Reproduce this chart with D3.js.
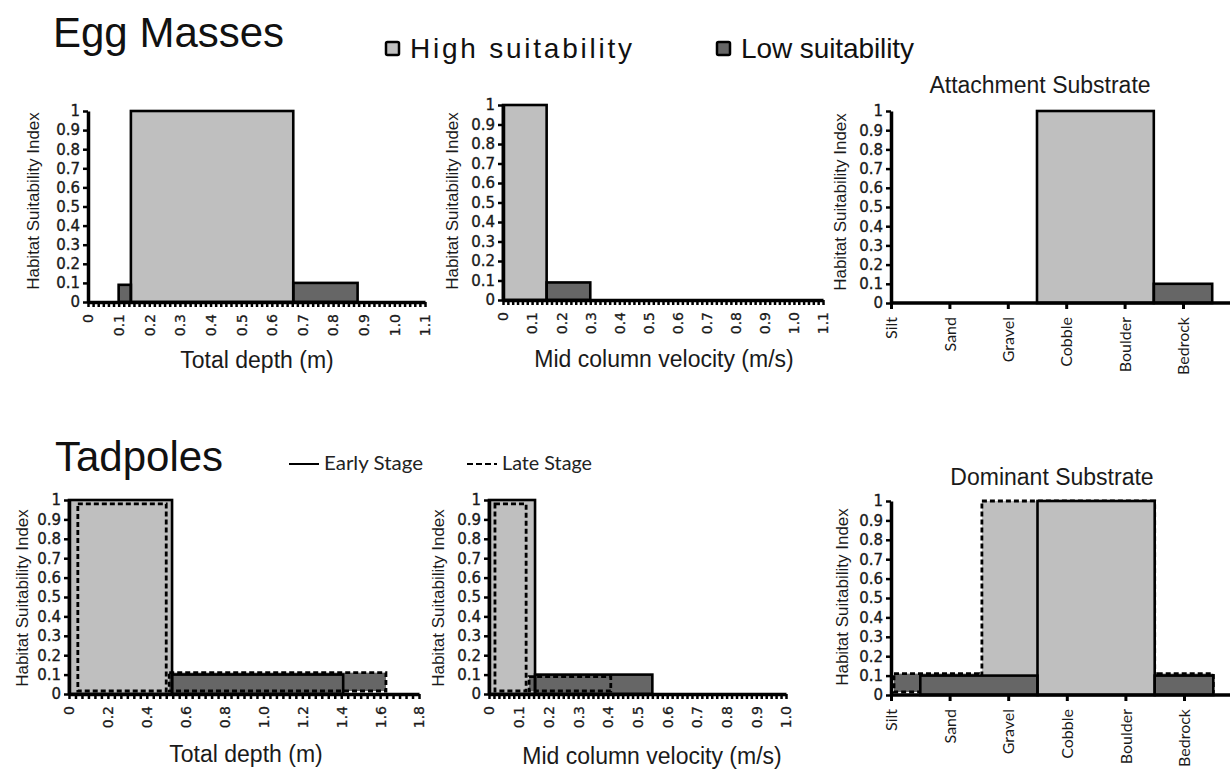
<!DOCTYPE html>
<html>
<head>
<meta charset="utf-8">
<script src="https://cdn.jsdelivr.net/npm/d3@7"></script>
<style>
  body { margin: 0; background: #fff; }
  svg { display: block; }
</style>
</head>
<body>
<div id="chart"></div>
<script>
// ---- data ----
const substrates = ["Silt", "Sand", "Gravel", "Cobble", "Boulder", "Bedrock"];
const hsiTicks = [0, 0.1, 0.2, 0.3, 0.4, 0.5, 0.6, 0.7, 0.8, 0.9, 1];

// egg masses
const eggDepthTicks = [0, 0.1, 0.2, 0.3, 0.4, 0.5, 0.6, 0.7, 0.8, 0.9, 1.0, 1.1];
const eggDepth = [
  { x0: 0.10, x1: 0.14, hsi: 0.09 },
  { x0: 0.14, x1: 0.67, hsi: 1 },
  { x0: 0.67, x1: 0.88, hsi: 0.1 }
];
const eggVelTicks = [0, 0.1, 0.2, 0.3, 0.4, 0.5, 0.6, 0.7, 0.8, 0.9, 1.0, 1.1];
const eggVelocity = [
  { x0: 0, x1: 0.15, hsi: 1 },
  { x0: 0.15, x1: 0.30, hsi: 0.09 }
];
const eggAttachment = [0, 0, 0, 1, 1, 0.1];

// tadpoles
const tadDepthTicks = [0, 0.2, 0.4, 0.6, 0.8, 1.0, 1.2, 1.4, 1.6, 1.8];
const tadDepthEarly = [
  { x0: 0, x1: 0.53, hsi: 1 },
  { x0: 0.53, x1: 1.41, hsi: 0.1 }
];
const tadDepthLate = [
  { x0: 0.03, x1: 0.50, hsi: 0.98 },
  { x0: 0.50, x1: 1.63, hsi: 0.11 }
];
const tadVelTicks = [0, 0.1, 0.2, 0.3, 0.4, 0.5, 0.6, 0.7, 0.8, 0.9, 1.0];
const tadVelEarly = [
  { x0: 0, x1: 0.155, hsi: 1 },
  { x0: 0.155, x1: 0.55, hsi: 0.1 }
];
const tadVelLate = [
  { x0: 0.01, x1: 0.125, hsi: 0.98 },
  { x0: 0.125, x1: 0.41, hsi: 0.09 }
];
const tadSubEarly = [0, 0.1, 0.1, 1, 1, 0.1];
const tadSubLate = [0.11, 0.11, 1, 1, 1, 0.11];

// ---- drawing ----
const WIDTH = 1230, HEIGHT = 772;
const HIGH = "#bfbfbf", LOW = "#666666";
const numFont = "'DejaVu Sans', Verdana, sans-serif";
const arial = "'Liberation Sans', Arial, sans-serif";
const narrow = "'Liberation Sans Narrow', 'Arial Narrow', 'Liberation Sans', sans-serif";
const calibri = "Lato, 'Open Sans', sans-serif";

let svg = d3.select("#chart").append("svg")
  .attr("width", WIDTH)
  .attr("height", HEIGHT);

const fillOf = v => v >= 0.5 ? HIGH : LOW;
const fmtX = d => d === 0 ? "0" : d3.format(".1f")(d);
const fmtY = d => (d === 0 || d === 1) ? String(d) : d3.format(".1f")(d);

// turn per-category values into runs of equal value (index space)
function runs(values) {
  let out = [];
  values.forEach((v, i) => {
    if (v <= 0) return;
    let last = out[out.length - 1];
    if (last && last.hsi === v && last.end === i - 1) last.end = i;
    else out.push({ start: i, end: i, hsi: v });
  });
  return out.map(r => ({ x0: Math.max(0, r.start - 0.5), x1: r.end + 0.5, hsi: r.hsi }));
}

function yAxis(g, y, axisX, tx, ty) {
  g.append("g")
    .attr("transform", `translate(${axisX},0)`)
    .call(d3.axisLeft(y).tickValues(hsiTicks).tickFormat(fmtY).tickSize(5).tickSizeOuter(0).tickPadding(3))
    .call(a => a.select(".domain").attr("stroke-width", 3.5))
    .call(a => a.selectAll(".tick line").attr("stroke-width", 2.5))
    .call(a => a.selectAll("text")
      .attr("font-family", numFont).attr("font-size", 15).attr("fill", "#1a1a1a")
      .attr("stroke", "#1a1a1a").attr("stroke-width", 0.35));
  g.append("text")
    .attr("transform", `translate(${tx},${ty}) rotate(-90)`)
    .attr("text-anchor", "middle")
    .attr("dominant-baseline", "central")
    .attr("font-family", arial)
    .attr("font-size", 17)
    .attr("fill", "#1a1a1a")
    .text("Habitat Suitability Index");
}

function rectAttrs(sel, x, y, dashed) {
  const lift = dashed ? 3 : 0;
  return sel
    .attr("x", d => x(d.x0) + lift)
    .attr("width", d => Math.max(0, x(d.x1) - x(d.x0) - lift))
    .attr("y", d => y(d.hsi))
    .attr("height", d => y(0) - lift - y(d.hsi));
}

function fillBars(g, data, x, y, dashed) {
  rectAttrs(g.append("g").selectAll("rect").data(data).enter().append("rect"), x, y, dashed)
    .attr("fill", d => fillOf(d.hsi));
}

function strokeBars(g, data, x, y, dashed) {
  rectAttrs(g.append("g").selectAll("rect").data(data).enter().append("rect"), x, y, dashed)
    .attr("fill", "none")
    .attr("stroke", "#000")
    .attr("stroke-width", dashed ? 2.8 : 2.6)
    .attr("stroke-dasharray", dashed ? "5,3" : null);
}

function continuousPanel(cfg) {
  let g = svg.append("g");
  let x = d3.scaleLinear().domain([0, cfg.max]).range(cfg.xr);
  let y = d3.scaleLinear().domain([0, 1]).range(cfg.yr);

  fillBars(g, cfg.early, x, y, false);
  if (cfg.late) fillBars(g, cfg.late, x, y, true);
  strokeBars(g, cfg.early, x, y, false);
  if (cfg.late) strokeBars(g, cfg.late, x, y, true);

  // dense minor ticks
  let minor = d3.range(0, cfg.max + 1e-9, cfg.step / 6);
  g.append("g")
    .attr("transform", `translate(0,${cfg.yr[0]})`)
    .call(d3.axisBottom(x).tickValues(minor).tickFormat("").tickSize(5).tickSizeOuter(0))
    .call(a => a.select(".domain").attr("stroke-width", 3.5))
    .call(a => a.selectAll(".tick line").attr("stroke-width", 2.5));
  // labels
  g.append("g")
    .attr("transform", `translate(0,${cfg.yr[0]})`)
    .call(d3.axisBottom(x).tickValues(cfg.ticks).tickFormat(fmtX).tickSize(0).tickSizeOuter(0))
    .call(a => a.select(".domain").remove())
    .call(a => a.selectAll("text")
      .attr("transform", "rotate(-90)")
      .attr("x", -12).attr("y", 0).attr("dy", "0.35em")
      .attr("text-anchor", "end")
      .attr("font-family", numFont).attr("font-size", 14).attr("fill", "#1a1a1a")
      .attr("stroke", "#1a1a1a").attr("stroke-width", 0.3));

  yAxis(g, y, cfg.xr[0], cfg.yTitle[0], cfg.yTitle[1]);

  g.append("text")
    .attr("x", cfg.xTitle[0]).attr("y", cfg.xTitle[1])
    .attr("text-anchor", "middle")
    .attr("font-family", arial).attr("font-size", 23).attr("fill", "#1a1a1a")
    .text(cfg.title);
}

function substratePanel(cfg) {
  let g = svg.append("g");
  let xi = d3.scaleLinear().domain([0, substrates.length - 1]).range(cfg.xr);
  let xp = d3.scalePoint().domain(substrates).range(cfg.xr);
  let y = d3.scaleLinear().domain([0, 1]).range(cfg.yr);

  let early = runs(cfg.early);
  if (cfg.late) {
    let late = runs(cfg.late);
    fillBars(g, late, xi, y, true);
    strokeBars(g, late, xi, y, true);
  }
  fillBars(g, early, xi, y, false);
  strokeBars(g, early, xi, y, false);

  g.append("line")
    .attr("x1", cfg.xr[0]).attr("x2", cfg.xEnd)
    .attr("y1", cfg.yr[0]).attr("y2", cfg.yr[0])
    .attr("stroke", "#000").attr("stroke-width", 3.5);
  g.append("g")
    .attr("transform", `translate(0,${cfg.yr[0]})`)
    .call(d3.axisBottom(xp).tickSize(6).tickSizeOuter(0))
    .call(a => a.select(".domain").remove())
    .call(a => a.selectAll(".tick line").attr("stroke-width", 3))
    .call(a => a.selectAll("text")
      .attr("transform", "rotate(-90)")
      .attr("x", -14).attr("y", 0).attr("dy", "0.35em")
      .attr("text-anchor", "end")
      .attr("font-family", calibri).attr("font-size", 16).attr("fill", "#1a1a1a"));

  yAxis(g, y, cfg.xr[0], cfg.yTitle[0], cfg.yTitle[1]);

  g.append("text")
    .attr("x", cfg.head[0]).attr("y", cfg.head[1])
    .attr("text-anchor", "middle")
    .attr("font-family", arial).attr("font-size", 23).attr("fill", "#1a1a1a")
    .text(cfg.title);
}

// egg masses row
continuousPanel({ max: 1.1, step: 0.1, ticks: eggDepthTicks, xr: [88, 425], yr: [302, 111],
  early: eggDepth, title: "Total depth (m)", xTitle: [257, 368], yTitle: [33, 201] });
continuousPanel({ max: 1.1, step: 0.1, ticks: eggVelTicks, xr: [503, 823], yr: [300, 105],
  early: eggVelocity, title: "Mid column velocity (m/s)", xTitle: [664, 367], yTitle: [452, 201] });
substratePanel({ xr: [891, 1183], xEnd: 1230, yr: [303, 111], early: eggAttachment,
  title: "Attachment Substrate", head: [1040, 93], yTitle: [840, 202] });

// tadpoles row
continuousPanel({ max: 1.8, step: 0.2, ticks: tadDepthTicks, xr: [69, 419], yr: [694, 500],
  early: tadDepthEarly, late: tadDepthLate, title: "Total depth (m)", xTitle: [246, 762], yTitle: [22, 598] });
continuousPanel({ max: 1.0, step: 0.1, ticks: tadVelTicks, xr: [489, 786], yr: [694, 500],
  early: tadVelEarly, late: tadVelLate, title: "Mid column velocity (m/s)", xTitle: [652, 764], yTitle: [438, 598] });
substratePanel({ xr: [891, 1184], xEnd: 1230, yr: [695, 501], early: tadSubEarly, late: tadSubLate,
  title: "Dominant Substrate", head: [1052, 485], yTitle: [842, 597] });

// headings
svg.append("text").attr("x", 53).attr("y", 47)
  .attr("font-family", arial).attr("font-size", 42).attr("fill", "#111")
  .text("Egg Masses");
svg.append("text").attr("x", 55).attr("y", 471)
  .attr("font-family", arial).attr("font-size", 42).attr("fill", "#111")
  .text("Tadpoles");

// suitability legend
const suitLegend = [
  { label: "High suitability", fill: HIGH, x: 386, w: 222 },
  { label: "Low suitability", fill: LOW, x: 717, w: 173 }
];
let lg = svg.append("g").selectAll("g").data(suitLegend).enter().append("g");
lg.append("rect")
  .attr("x", d => d.x).attr("y", 42).attr("width", 13).attr("height", 13)
  .attr("rx", 1.5)
  .attr("fill", d => d.fill).attr("stroke", "#000").attr("stroke-width", 2.5);
lg.append("text")
  .attr("x", d => d.x + 24).attr("y", 58)
  .attr("font-family", narrow).attr("font-size", 28)
  .attr("textLength", d => d.w).attr("lengthAdjust", "spacing")
  .attr("fill", "#111")
  .text(d => d.label);

// stage legend
const stageLegend = [
  { label: "Early Stage", dash: null, x: 289, w: 99 },
  { label: "Late Stage", dash: "6,3", x: 467, w: 90 }
];
let sg = svg.append("g").selectAll("g").data(stageLegend).enter().append("g");
sg.append("line")
  .attr("x1", d => d.x).attr("x2", d => d.x + 30)
  .attr("y1", 464).attr("y2", 464)
  .attr("stroke", "#000").attr("stroke-width", 2)
  .attr("stroke-dasharray", d => d.dash);
sg.append("text")
  .attr("x", d => d.x + 35).attr("y", 470)
  .attr("font-family", calibri).attr("font-size", 19)
  .attr("textLength", d => d.w).attr("lengthAdjust", "spacingAndGlyphs")
  .attr("fill", "#222")
  .text(d => d.label);
</script>
</body>
</html>
